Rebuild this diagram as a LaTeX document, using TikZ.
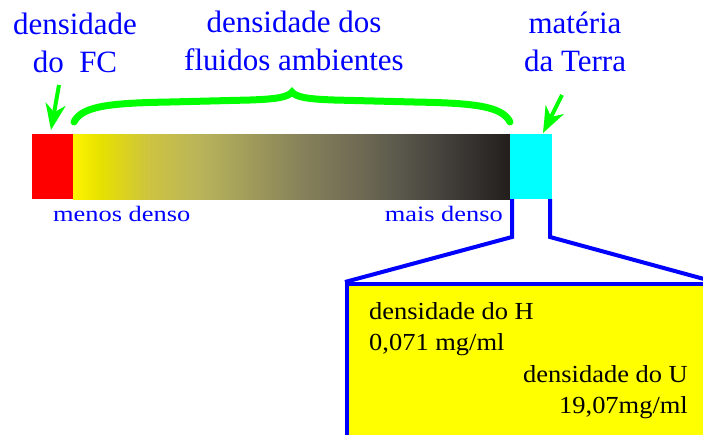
\documentclass[tikz,border=0pt]{standalone}
\usepackage{fontspec}
\setmainfont{Liberation Serif}
\newfontfamily\widefont[FakeStretch=1.2]{Liberation Serif}
\newfontfamily\boxfont[FakeStretch=1.08]{Liberation Serif}
\usetikzlibrary{positioning,arrows.meta}

\definecolor{verde}{RGB}{0,255,0}
\definecolor{azul}{RGB}{0,0,255}
\definecolor{vermelho}{RGB}{255,0,0}
\definecolor{ciano}{RGB}{0,255,255}
\definecolor{amarelo}{RGB}{255,255,0}

\pgfdeclarehorizontalshading{fluidshade}{100bp}{
  rgb(0bp)=(1,0.961,0); rgb(25bp)=(1,0.961,0);
  rgb(28.1bp)=(0.902,0.882,0); rgb(33.8bp)=(0.804,0.765,0.255);
  rgb(39.5bp)=(0.725,0.706,0.353); rgb(45.3bp)=(0.627,0.608,0.353);
  rgb(51bp)=(0.529,0.51,0.353); rgb(56.7bp)=(0.451,0.431,0.333);
  rgb(62.4bp)=(0.353,0.345,0.294); rgb(68.1bp)=(0.255,0.243,0.227);
  rgb(75bp)=(0.137,0.118,0.11); rgb(100bp)=(0.137,0.118,0.11)}

\tikzset{
  faixa/.style={inner sep=0,outer sep=0,minimum height=65pt},
  rotulo/.style={text=azul,align=center,inner sep=0,font=\fontsize{31}{38}\selectfont},
  rotulobaixo/.style={text=azul,inner sep=0,font=\widefont\fontsize{22}{26}\selectfont},
  textocaixa/.style={inner sep=0,font=\boxfont\fontsize{24.5}{31}\selectfont},
  seta/.style={draw=verde,line width=4pt,-{Stealth[length=26pt,width=20pt,inset=8pt]}},
  lupa/.style={draw=azul,line width=4pt}
}

\begin{document}
\begin{tikzpicture}[x=1pt,y=-1pt]

\path[use as bounding box] (0,0) rectangle (703,434);
\clip (0,0) rectangle (703,434);

% barra de densidades
\node [faixa,fill=vermelho,minimum width=41pt] (fc) at (52.5,166.5) {};
\node [faixa,minimum width=437pt,shade,shading=fluidshade] (fluido) [right=0pt of fc] {};
\node [faixa,fill=ciano,minimum width=42pt] (terra) [right=0pt of fluido] {};

% rotulos de cima
\node [rotulo,anchor=base] (lfc) at (75,72) {densidade\\do~~FC};
\node [rotulo,anchor=base] (lfluido) at (294,70) {densidade dos\\fluidos ambientes};
\node [rotulo,anchor=base] (lterra) at (575,71) {matéria\\da Terra};

\coordinate (sfc) at (59,85);
\coordinate (sterra) at (562,95);
\draw [seta] (sfc) -- ([xshift=-1.5pt,yshift=4pt]fc.north);
\draw [seta] (sterra) -- ([xshift=12pt,yshift=1pt]terra.north);

% chave
\draw [verde,line width=7pt,line cap=round]
  (74,122) .. controls (82,106) and (110,103) .. (170,102)
  -- (250,100) .. controls (278,99) and (288,97) .. (292,92)
  .. controls (296,97) and (306,99) .. (334,100)
  -- (414,102) .. controls (474,103) and (502,106) .. (510,122);

% rotulos de baixo
\node [rotulobaixo,anchor=base west] (menos) at (53,221) {menos denso};
\node [rotulobaixo,anchor=base east] (mais) at (503,221) {mais denso};

% caixa ampliada
\node [lupa,fill=amarelo,inner sep=0,minimum width=366pt,minimum height=190pt] (caixa) at (530,379) {};
\draw [lupa] ([xshift=2pt]terra.south west) -- ++(0,38) -- (caixa.north west);
\draw [lupa] ([xshift=-2pt]terra.south east) -- ++(0,38) -- (caixa.north east);

\node [textocaixa,align=left,anchor=base west] (hidro) at (369,350) {densidade do H\\0,071 mg/ml};
\node [textocaixa,align=right,anchor=base east] (urano) at (688,413) {densidade do U\\19,07mg/ml};

\end{tikzpicture}
\end{document}
